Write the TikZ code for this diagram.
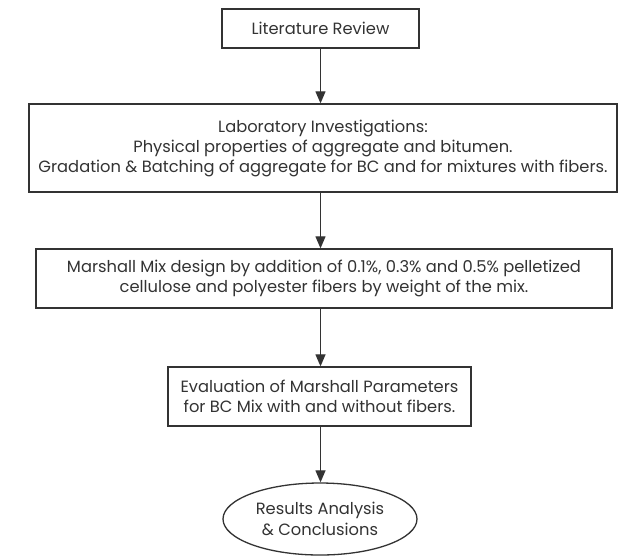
\documentclass[tikz,border=0pt]{standalone}
\usepackage{fontspec}
\setmainfont{Poppins}
\usetikzlibrary{arrows.meta,shapes.geometric}
\definecolor{ink}{HTML}{333333}
\tikzset{
  x=1pt,y=-1pt,
  box/.style={draw=ink,line width=1.3pt,rectangle,inner sep=0pt,align=center,text=ink,font=\fontsize{16.3}{20}\selectfont},
  oval/.style={draw=ink,line width=1.3pt,ellipse,inner sep=0pt,align=center,text=ink,font=\fontsize{16.3}{21}\selectfont},
  arr/.style={draw=ink,line width=1.2pt,-{Triangle[length=12pt,width=10pt]}}
}
\begin{document}
\begin{tikzpicture}
\useasboundingbox[fill=white] (0,0) rectangle (626,558);
\node[box,minimum width=197pt,minimum height=39pt] (b1) at (320.5,28.5) {Literature Review};
\node[box,minimum width=588pt,minimum height=88pt] (b2) at (323,148) {Laboratory Investigations:\\Physical properties of aggregate and bitumen.\\Gradation \& Batching of aggregate for BC and for mixtures with fibers.};
\node[box,minimum width=576pt,minimum height=59pt] (b3) at (324,278.5) {Marshall Mix design by addition of 0.1\%, 0.3\% and 0.5\% pelletized\\cellulose and polyester fibers by weight of the mix.};
\node[box,minimum width=303pt,minimum height=59pt] (b4) at (319.5,396.5) {Evaluation of Marshall Parameters\\for BC Mix with and without fibers.};
\node[oval,minimum width=194pt,minimum height=72pt] (e5) at (320,519) {Results Analysis\\\& Conclusions};
\draw[arr] (b1.south) -- (b1.south |- b2.north);
\draw[arr] (b2.south -| b1.south) -- (b1.south |- b3.north);
\draw[arr] (b3.south -| b1.south) -- (b1.south |- b4.north);
\draw[arr] (b4.south -| b1.south) -- (b1.south |- e5.north);
\end{tikzpicture}
\end{document}
